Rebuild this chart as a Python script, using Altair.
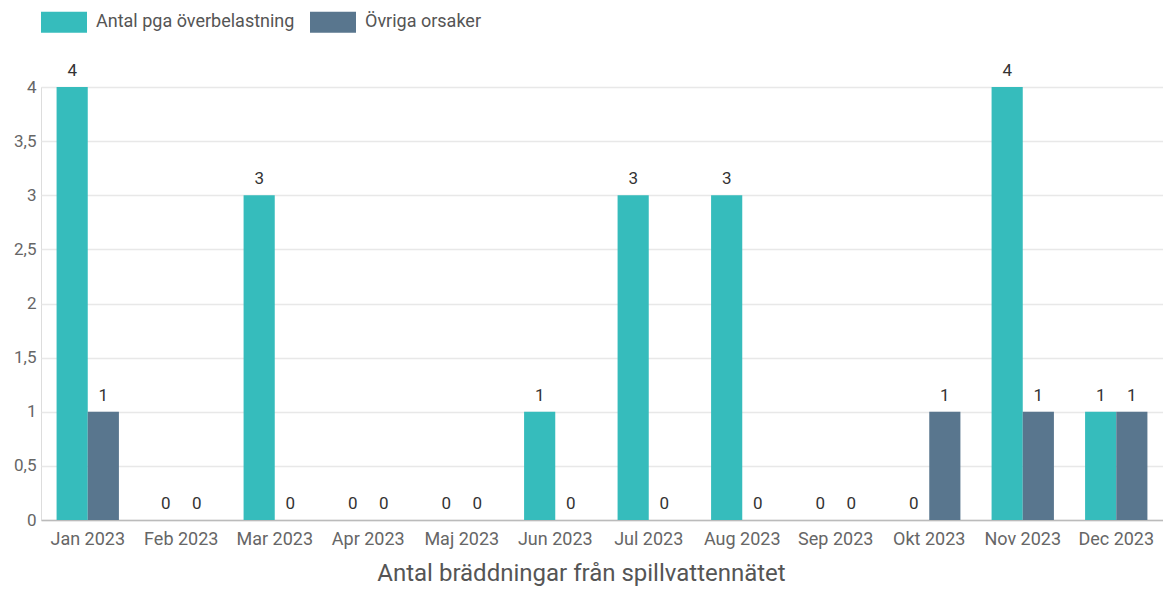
import altair as alt
import pandas as pd

months = ["Jan 2023", "Feb 2023", "Mar 2023", "Apr 2023", "Maj 2023", "Jun 2023",
          "Jul 2023", "Aug 2023", "Sep 2023", "Okt 2023", "Nov 2023", "Dec 2023"]
overload = [4, 0, 3, 0, 0, 1, 3, 3, 0, 0, 4, 1]
other = [1, 0, 0, 0, 0, 0, 0, 0, 0, 1, 1, 1]
series = ["Antal pga överbelastning", "Övriga orsaker"]
colors = ["#36BCBC", "#59768E"]
y_ticks = [0, 0.5, 1, 1.5, 2, 2.5, 3, 3.5, 4]

rows = []
for m, a, b in zip(months, overload, other):
    rows.append({"month": m, "series": series[0], "value": a})
    rows.append({"month": m, "series": series[1], "value": b})
df = pd.DataFrame(rows)

FONT = "Roboto"

x_enc = alt.X(
    "month:N", sort=months,
    scale=alt.Scale(paddingInner=1 / 3, paddingOuter=1 / 6),
    axis=alt.Axis(
        title="Antal bräddningar från spillvattennätet",
        labelAngle=0, labelFontSize=18, labelColor="#666666", labelFont=FONT,
        labelPadding=10, ticks=False, domainColor="#BBBBBB", domainWidth=1.5,
        titleFontSize=24, titleColor="#555555", titleFont=FONT, titleFontWeight="normal",
        titlePadding=13, titleX=540, titleAlign="center",
    ),
)
xoff = alt.XOffset("series:N", sort=series, scale=alt.Scale(paddingInner=0, paddingOuter=0))
y_enc = alt.Y(
    "value:Q", scale=alt.Scale(domain=[0, 4], nice=False),
    axis=alt.Axis(
        title=None, values=y_ticks, labelFontSize=17, labelColor="#666666", labelFont=FONT,
        labelPadding=5, ticks=False, domain=False, gridColor="#E8E8E8", gridWidth=1.5,
        labelExpr="replace(format(datum.value, '~g'), '.', ',')",
    ),
)

bars = alt.Chart(df).mark_bar().encode(
    x=x_enc, xOffset=xoff, y=y_enc,
    color=alt.Color(
        "series:N", sort=series,
        scale=alt.Scale(domain=series, range=colors),
        legend=alt.Legend(
            title=None, orient="none", direction="horizontal", legendX=0, legendY=-88,
            symbolType="M-1,-0.46L1,-0.46L1,0.46L-1,0.46Z", symbolSize=2116,
            symbolStrokeWidth=0, labelFontSize=18, labelColor="#555555", labelFont=FONT,
            columnPadding=15, labelOffset=9, padding=0, labelLimit=400,
        ),
    ),
)

text = alt.Chart(df).mark_text(
    baseline="bottom", dy=-7, fontSize=17, color="#333333", font=FONT
).encode(x=x_enc, xOffset=xoff, y=y_enc, text="value:Q")

chart = alt.layer(bars, text).properties(
    width=1122, height=433,
    autosize=alt.AutoSizeParams(type="none"),
    padding={"left": 33, "top": 79, "right": 0, "bottom": 66},
).configure_view(stroke=None).configure(font=FONT)

chart.save("out.html", embed_options={"renderer": "svg", "actions": False})
